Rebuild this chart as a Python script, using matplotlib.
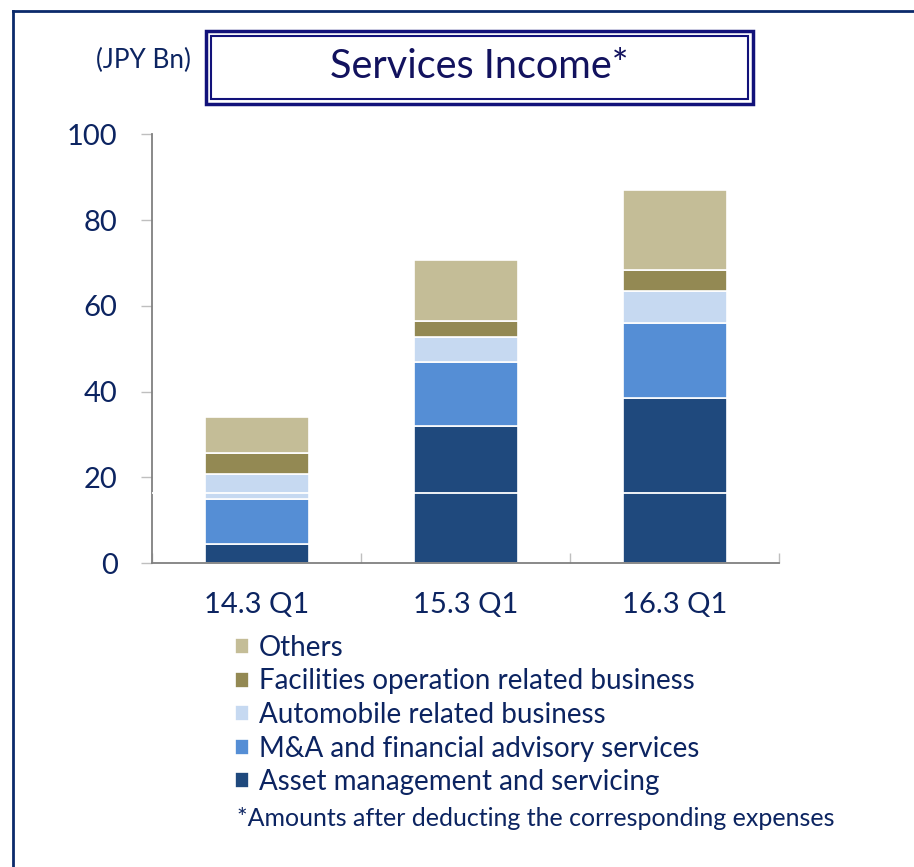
import matplotlib
matplotlib.use("Agg")
import matplotlib.pyplot as plt
from matplotlib.patches import Rectangle
import numpy as np

plt.rcParams['font.family'] = ['Lato', 'DejaVu Sans']

categories = ["14.3 Q1", "15.3 Q1", "16.3 Q1"]
series_names = [
    "Asset management and servicing",
    "M&A and financial advisory services",
    "Automobile related business",
    "Facilities operation related business",
    "Others",
]
asset_mgmt = [4.5, 32.0, 38.5]
ma_advisory = [10.5, 15.0, 17.6]
automobile = [5.8, 5.8, 7.4]
facilities = [4.9, 3.7, 4.9]
others = [8.5, 14.2, 18.5]
yticks = [0, 20, 40, 60, 80, 100]

colors = ["#1F497D", "#558ED5", "#C6D9F1", "#938953", "#C4BD97"]
TXT = "#0C2461"

W, H = 914, 867
def fx(px):
    return px / W
def fy(py):
    return 1 - py / H

fig = plt.figure(figsize=(9.14, 8.67), dpi=100)
ax = fig.add_axes([0.1668, 0.3503, 0.686, 0.4948])

x = np.arange(len(categories))
bottom = np.zeros(len(categories))
handles = []
for name, vals, c in zip(series_names, [asset_mgmt, ma_advisory, automobile, facilities, others], colors):
    b = ax.bar(x, vals, width=0.5, bottom=bottom, color=c, edgecolor="white",
               linewidth=1.2, label=name, zorder=2)
    handles.append(b)
    bottom += np.array(vals)

# faint white rendering line seen across the reference plot
ax.axhline(16.3, color="white", linewidth=1.3, zorder=3)

ax.set_xlim(-0.5, len(categories) - 0.5)
ax.set_ylim(0, 100)
ax.set_yticks(yticks)
ax.set_yticklabels([str(v) for v in yticks])
ax.set_xticks(x)
ax.set_xticklabels(categories)
ax.set_xticks(np.arange(len(categories) + 1) - 0.5, minor=True)

for s in ["top", "right"]:
    ax.spines[s].set_visible(False)
for s in ["left", "bottom"]:
    ax.spines[s].set_color("#808080")
    ax.spines[s].set_linewidth(1.3)

ax.tick_params(axis="y", direction="out", length=8, width=1, color="#BFBFBF",
               labelsize=21, labelcolor=TXT, pad=17)
ax.tick_params(axis="x", which="major", length=0, labelsize=21, labelcolor=TXT, pad=21)
ax.tick_params(axis="x", which="minor", direction="in", length=7, width=1, color="#BFBFBF")

# legend (reverse order)
leg = fig.legend(handles[::-1], series_names[::-1], loc="upper left",
                 bbox_to_anchor=(fx(235), fy(635)), frameon=False, fontsize=20,
                 handlelength=0.5, handleheight=0.5, handletextpad=0.36,
                 labelspacing=0.27, borderaxespad=0, borderpad=0)
for t in leg.get_texts():
    t.set_color(TXT)

fig.text(fx(237), fy(818), "*Amounts after deducting the corresponding expenses",
         fontsize=18, color=TXT, ha="left", va="center")

# title box
fig.patches.append(Rectangle((fx(206), fy(104)), fx(753) - fx(206), fy(31) - fy(104),
                             transform=fig.transFigure, fill=False,
                             edgecolor="#12127A", linewidth=2.5))
fig.patches.append(Rectangle((fx(211), fy(99)), fx(748) - fx(211), fy(36) - fy(99),
                             transform=fig.transFigure, fill=False,
                             edgecolor="#12127A", linewidth=1.5))
fig.text(fx(479), fy(67), "Services Income*", fontsize=28.5, color="#12125E",
         ha="center", va="center")
fig.text(fx(143), fy(60), "(JPY Bn)", fontsize=18.8, color=TXT, ha="center", va="center")

# outer frame lines
fig.add_artist(plt.Line2D([fx(12.5), fx(12.5)], [fy(11), 0], transform=fig.transFigure,
                          color="#0B2A6B", linewidth=2))
fig.add_artist(plt.Line2D([fx(12.5), 1], [fy(11), fy(11)], transform=fig.transFigure,
                          color="#0B2A6B", linewidth=2))

fig.savefig("out.png", dpi=100)
